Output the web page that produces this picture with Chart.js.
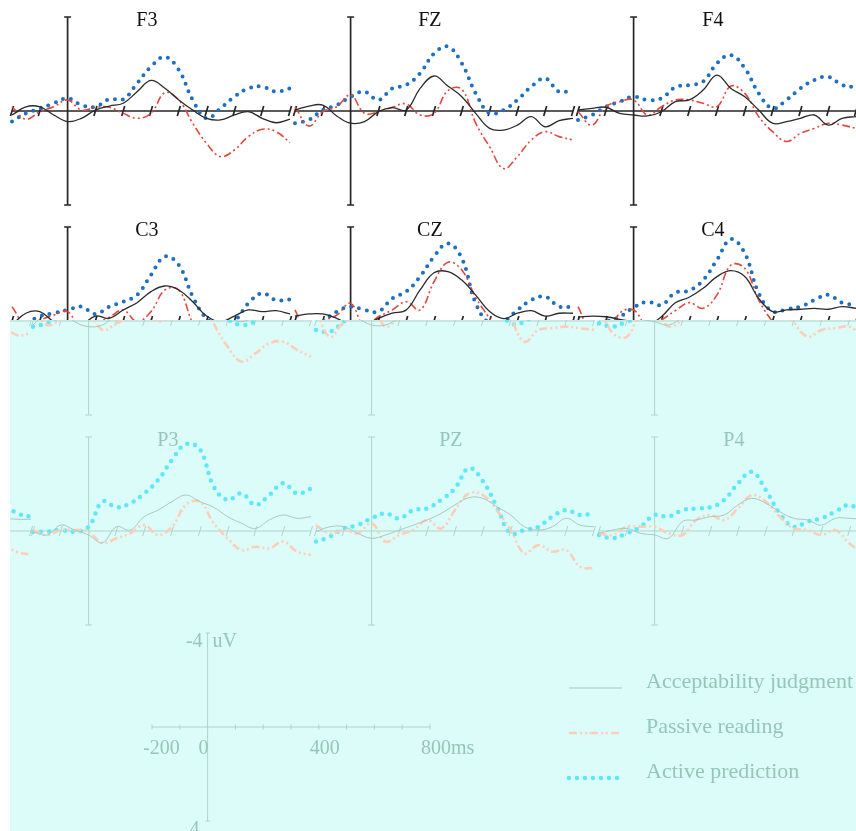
<!DOCTYPE html>
<html>
<head>
<meta charset="utf-8">
<script src="https://cdn.jsdelivr.net/npm/chart.js@4.4.0/dist/chart.umd.min.js"></script>
<style>
  html, body { margin: 0; padding: 0; background: #fff; }
  #page { position: relative; width: 856px; height: 831px; overflow: hidden; background: #fff; }
  #upper { position: absolute; left: 0; top: 0; width: 856px; height: 320px; overflow: hidden; }
  #lower { position: absolute; left: 10px; top: 320px; width: 846px; height: 511px; overflow: hidden; background: #dcfcf9; }
  canvas { position: absolute; }
</style>
</head>
<body>
<div id="page">
  <div id="upper"></div>
  <div id="lower"></div>
</div>
<script>
// time axis (ms) and µV values, negative plotted up
const TIMES = [-200, -150, -100, -50, 0, 50, 100, 150, 200, 250, 300, 350, 400, 450, 500, 550, 600, 650, 700, 750, 800];
const TICKS = [-200, -100, 0, 100, 200, 300, 400, 500, 600, 700, 800];
const SERIES = ["Acceptability judgment", "Passive reading", "Active prediction"];
const SCALE_VALUES = [-200, 0, 400, 800];
const SCALE_LABELS = ["-200", "0", "400", "800ms"];

const F3_judgment = [0.17, -0.18, -0.18, 0.17, 0.45, 0.31, -0.04, -0.21, -0.33, -0.82, -1.3, -0.97, -0.47, -0.04, 0.31, 0.38, 0.17, 0.03, 0.31, 0.5, 0.35];
const F3_passive  = [-0.18, 0.35, 0.03, -0.18, -0.47, -0.04, -0.16, -0.16, 0.1, 0.31, 0.1, -0.78, -0.47, 0.52, 1.38, 1.94, 1.66, 1.09, 0.78, 0.88, 1.35];
const F3_active   = [0.45, 0.1, -0.1, -0.33, -0.54, -0.25, -0.18, -0.5, -0.5, -1.18, -1.89, -2.3, -1.75, -0.47, 0.31, -0.11, -0.61, -0.96, -1.04, -0.82, -0.96];

const FZ_judgment = [-0.04, -0.21, -0.25, 0.21, 0.52, 0.45, 0.03, -0.14, -0.04, -0.96, -1.49, -1.06, -0.61, 0.1, 0.74, 0.81, 0.6, 0.24, 0.67, 0.41, 0.31];
const FZ_passive  = [-0.18, 0.64, 0.03, -0.18, -0.68, 0.1, 0.03, -0.16, -0.3, 0.17, 0.1, -0.87, -0.92, 0.52, 1.52, 2.45, 1.94, 1.23, 0.88, 1.09, 1.23];
const FZ_active   = [0.52, 0.38, -0.04, -0.25, -0.61, -0.82, -0.47, -0.96, -1.11, -1.6, -2.45, -2.74, -2.03, -0.75, 0.1, -0.04, -0.47, -1.04, -1.39, -0.82, -0.89];

const F4_judgment = [-0.04, -0.11, -0.16, 0.1, 0.17, 0.21, 0.03, -0.4, -0.47, -0.89, -1.53, -0.96, -0.61, -0.04, 0.52, 0.45, 0.31, 0.17, 0.6, 0.31, 0.24];
const F4_passive  = [0.03, 0.6, -0.18, -0.4, -0.47, 0.17, -0.18, -0.47, -0.47, -0.33, -0.18, -1.06, -0.75, 0.24, 0.88, 1.3, 0.95, 0.74, 0.52, 0.6, 0.74];
const F4_active   = [0.38, 0.17, -0.18, -0.4, -0.61, -0.47, -0.54, -1.01, -1.11, -1.25, -2.03, -2.38, -1.82, -0.75, -0.11, -0.47, -0.96, -1.32, -1.46, -1.11, -1.01];

const C3_judgment = [0.17, -0.33, -0.4, 0.03, 0.24, 0.17, -0.21, -0.11, -0.47, -0.78, -1.25, -1.49, -1.32, -0.82, -0.21, 0.03, -0.21, -0.47, -0.4, -0.44, -0.3];
const C3_passive  = [-0.61, 0.17, -0.04, -0.25, -0.4, 0.38, 0.1, -0.16, -0.47, 0.03, -0.4, -1.32, -1.32, 0.1, 1.09, 1.73, 1.38, 0.95, 0.88, 1.23, 1.52];
const C3_active   = [0.24, 0.1, -0.21, -0.33, -0.47, -0.61, -0.3, -0.61, -0.82, -1.11, -1.96, -2.74, -2.38, -1.04, -0.11, 0.17, -0.01, -0.75, -1.18, -0.89, -0.92];

const CZ_judgment = [-0.21, -0.3, -0.3, -0.11, 0.17, 0.17, -0.11, -0.33, -0.47, -1.32, -2.05, -2.1, -1.74, -1.1, -0.4, -0.1, -0.33, -0.44, -0.21, -0.33, -0.33];
const CZ_passive  = [-0.47, 0.67, 0.03, -0.25, -0.75, 0.24, -0.18, -0.47, -0.82, -0.47, -1.67, -2.5, -2.17, -1.0, -0.1, 0.88, 0.38, 0.31, 0.24, 0.31, 0.38];
const CZ_active   = [0.38, 0.45, 0.03, -0.4, -0.61, -0.47, -0.4, -0.96, -1.25, -1.89, -2.74, -3.3, -2.67, -0.75, 0.1, 0.03, -0.47, -0.89, -1.04, -0.61, -0.61];

const C4_judgment = [-0.16, -0.21, -0.18, -0.07, 0.03, 0.17, -0.18, -0.78, -1.01, -1.39, -1.89, -2.14, -1.89, -0.96, -0.4, -0.47, -0.5, -0.54, -0.5, -0.61, -0.54];
const C4_passive  = [-0.61, 0.52, 0.67, -0.33, -0.47, 0.24, -0.04, -0.44, -0.78, -0.54, -1.11, -2.38, -2.24, -0.89, 0.03, 0.67, 0.38, 0.31, 0.24, 0.6, 0.52];
const C4_active   = [0.1, 0.24, 0.03, -0.18, -0.58, -0.82, -0.68, -1.21, -1.29, -1.74, -2.6, -3.48, -2.88, -1.18, -0.4, -0.5, -0.61, -0.89, -1.11, -0.78, -0.68];

const P3_judgment = [0.03, 0.17, -0.25, -0.04, 0.17, 0.5, -0.18, -0.04, -0.61, -0.89, -1.25, -1.53, -1.25, -1.01, -0.61, -0.33, -0.11, -0.47, -0.68, -0.54, -0.61];
const P3_passive  = [-0.04, 0.17, -0.04, -0.04, 0.03, 0.52, 0.31, 0.1, -0.25, 0.17, -0.18, -1.11, -1.25, -0.33, 0.31, 0.81, 0.67, 0.74, 0.45, 0.88, 1.02];
const P3_active   = [0.03, 0.03, -0.04, 0.03, -0.18, -1.25, -1.01, -1.18, -1.6, -2.17, -3.03, -3.7, -3.48, -1.89, -1.32, -1.6, -1.11, -1.53, -2.03, -1.6, -1.8];

const PZ_judgment = [0.03, -0.18, -0.18, 0.1, 0.31, 0.17, -0.04, -0.25, -0.47, -0.75, -1.11, -1.42, -1.39, -1.04, -0.68, -0.18, -0.04, -0.18, -0.54, -0.25, -0.18];
const PZ_passive  = [-0.25, 0.1, -0.04, 0.1, -0.33, 0.45, 0.17, -0.04, -0.47, -0.11, -0.89, -1.6, -1.53, -0.89, -0.04, 0.95, 0.6, 0.88, 0.81, 1.52, 1.59];
const PZ_active   = [0.45, 0.24, -0.11, -0.25, -0.54, -0.75, -0.54, -0.89, -0.96, -1.32, -1.82, -2.67, -2.13, -1.04, 0.1, -0.04, -0.18, -0.61, -0.89, -0.68, -0.75];

const P4_judgment = [0.1, -0.04, -0.11, 0.1, 0.17, 0.31, -0.4, -0.47, -0.61, -0.68, -1.11, -1.39, -1.18, -0.82, -0.54, -0.47, -0.25, -0.54, -0.54, -0.5, -0.5];
const P4_passive  = [0.1, 0.17, -0.18, -0.18, -0.18, 0.1, 0.17, -0.47, -0.68, -0.47, -0.96, -1.53, -1.25, -0.61, -0.11, -0.04, 0.17, -0.04, 0.52, 0.9, 1.0];
const P4_active   = [0.17, 0.31, 0.1, -0.18, -0.68, -0.61, -0.89, -0.96, -1.01, -1.32, -2.03, -2.52, -1.74, -0.75, -0.18, -0.4, -0.54, -0.82, -1.11, -0.75, -0.61];

const PANELS = [
  { name: "F3", row: 0, col: 0, series: [F3_judgment, F3_passive, F3_active] },
  { name: "FZ", row: 0, col: 1, series: [FZ_judgment, FZ_passive, FZ_active] },
  { name: "F4", row: 0, col: 2, series: [F4_judgment, F4_passive, F4_active] },
  { name: "C3", row: 1, col: 0, series: [C3_judgment, C3_passive, C3_active] },
  { name: "CZ", row: 1, col: 1, series: [CZ_judgment, CZ_passive, CZ_active] },
  { name: "C4", row: 1, col: 2, series: [C4_judgment, C4_passive, C4_active] },
  { name: "P3", row: 2, col: 0, series: [P3_judgment, P3_passive, P3_active] },
  { name: "PZ", row: 2, col: 1, series: [PZ_judgment, PZ_passive, PZ_active] },
  { name: "P4", row: 2, col: 2, series: [P4_judgment, P4_passive, P4_active] },
];

// normal ink on white, and the washed-out cyan look of the lower part
const INK  = { axis: "#262626", axisW: 1.7, text: "#111111", lines: ["#2b2b2b", "#e4473d", "#1d6fc3"], widths: [1.3, 1.6, 4] };
const WASH = { axis: "#afd4c9", axisW: 1, text: "#96c6b8", lines: ["#a6c9bf", "#ffcdb8", "#5ee9fb"], widths: [1, 2.6, 4.5] };
const DASHES = [[], [8, 3, 2, 3, 2, 3], [0, 8]];
const SERIF = "'Liberation Serif', 'Times New Roman', serif";

const COL_LEFT = [4, 287, 570];
const ROW_TOP = [0, 210, 420];
const SHIFT = 11;     // lower block sits 21px right, minus its own 10px left edge
const WRAP = 846;

const erpAxes = {
  id: "erpAxes",
  beforeDatasetsDraw(chart, args, o) {
    const { ctx } = chart;
    const x = chart.scales.x, y = chart.scales.y;
    const x0 = x.getPixelForValue(0), y0 = y.getPixelForValue(0);
    const yTop = y.getPixelForValue(-4), yBot = y.getPixelForValue(4);
    const small = o.mode === "scale";
    const tick = small ? 2.5 : 5, slant = small ? 0 : 1.5, cap = small ? 2 : 3.5;
    ctx.save();
    ctx.strokeStyle = o.pal.axis;
    ctx.lineWidth = small ? 1 : o.pal.axisW;
    ctx.beginPath();
    ctx.moveTo(x.getPixelForValue(TICKS[0]), y0);
    ctx.lineTo(x.getPixelForValue(TICKS[TICKS.length - 1]), y0);
    ctx.moveTo(x0, yTop); ctx.lineTo(x0, yBot);
    ctx.moveTo(x0 - cap, yTop); ctx.lineTo(x0 + cap, yTop);
    ctx.moveTo(x0 - cap, yBot); ctx.lineTo(x0 + cap, yBot);
    TICKS.forEach(t => {
      if (t === 0 && !small) return;
      const px = x.getPixelForValue(t);
      ctx.moveTo(px + slant, y0 - tick);
      ctx.lineTo(px - slant, y0 + tick);
    });
    ctx.stroke();
    ctx.restore();
  },
  afterDraw(chart, args, o) {
    const { ctx, chartArea: a } = chart;
    const x = chart.scales.x, y = chart.scales.y;
    const x0 = x.getPixelForValue(0), y0 = y.getPixelForValue(0);
    ctx.save();
    ctx.fillStyle = o.pal.text;
    ctx.textBaseline = "alphabetic";
    if (o.mode === "panel") {
      ctx.font = "20px " + SERIF;
      ctx.textAlign = "center";
      ctx.fillText(o.title, x.getPixelForValue(285), a.top + 9);
    } else {
      ctx.font = "20px " + SERIF;
      ctx.textAlign = "left";
      SCALE_VALUES.forEach((v, i) => ctx.fillText(SCALE_LABELS[i], x.getPixelForValue(v) - 9, y0 + 27));
      const yTop = y.getPixelForValue(-4), yBot = y.getPixelForValue(4);
      ctx.textAlign = "right";
      ctx.fillText("-4", x0 - 5, yTop + 14);
      ctx.fillText("4", x0 - 8, yBot + 14);
      ctx.textAlign = "left";
      ctx.fillText("uV", x0 + 5, yTop + 14);
      // legend
      ctx.font = "22px " + SERIF;
      SERIES.forEach((s, i) => {
        const ly = a.top + 55 + 45 * i;
        ctx.save();
        ctx.strokeStyle = o.pal.lines[i];
        ctx.lineWidth = o.pal.widths[i];
        ctx.setLineDash(DASHES[i]);
        ctx.lineCap = i === 2 ? "round" : "butt";
        ctx.beginPath();
        ctx.moveTo(a.right + 139, ly);
        ctx.lineTo(a.right + 192, ly);
        ctx.stroke();
        ctx.restore();
        ctx.fillText(s, a.right + 216, ly);
      });
    }
    ctx.restore();
  },
};

function addChart(parent, left, top, width, title, series, pal, mode) {
  const cv = document.createElement("canvas");
  cv.width = width;
  cv.height = 215;
  cv.style.left = left + "px";
  cv.style.top = top + "px";
  parent.appendChild(cv);
  new Chart(cv, {
    type: "line",
    data: {
      datasets: series.map((vals, i) => ({
        label: SERIES[i],
        data: TIMES.map((t, k) => ({ x: t, y: vals[k] })),
        borderColor: pal.lines[i],
        borderWidth: pal.widths[i],
        borderDash: DASHES[i],
        borderCapStyle: i === 2 ? "round" : "butt",
        pointRadius: 0,
        tension: 0.4,
        fill: false,
        clip: 8,
      })),
    },
    options: {
      responsive: false,
      animation: false,
      events: [],
      layout: { padding: { left: 8, right: width - 286, top: 17, bottom: 10 } },
      scales: {
        x: { type: "linear", min: -200, max: 800, display: false },
        y: { min: -4, max: 4, reverse: true, display: false },
      },
      plugins: {
        legend: { display: false },
        tooltip: { enabled: false },
        erpAxes: { pal, title, mode },
      },
    },
    plugins: [erpAxes],
  });
}

const upper = document.getElementById("upper");
const lower = document.getElementById("lower");

PANELS.forEach(p => {
  const L = COL_LEFT[p.col], T = ROW_TOP[p.row];
  if (p.row < 2) addChart(upper, L, T, 290, p.name, p.series, INK, "panel");
  if (p.row > 0) {
    addChart(lower, L + SHIFT, T - 320, 290, p.name, p.series, WASH, "panel");
    if (p.col === 2) addChart(lower, L + SHIFT - WRAP, T - 320, 290, p.name, p.series, WASH, "panel");
  }
});

// scale bar and legend
addChart(lower, 134, 296, 712, "", [], WASH, "scale");
</script>
</body>
</html>
